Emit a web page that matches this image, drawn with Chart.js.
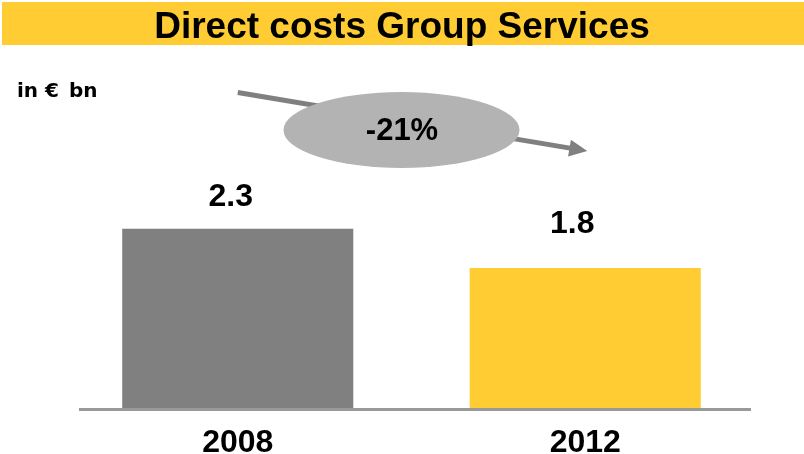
<!DOCTYPE html>
<html>
<head>
<meta charset="utf-8">
<script src="https://cdn.jsdelivr.net/npm/chart.js@4"></script>
<style>
  html, body { margin: 0; padding: 0; background: #ffffff; }
  canvas { display: block; }
</style>
</head>
<body>
<canvas id="chart" width="804" height="454"></canvas>
<script>
// Direct costs of Group Services, in € bn
const years = ['2008', '2012'];
const costs = [2.3, 1.8];
const valueLabels = ['2.3', '1.8'];
const changeLabel = '-21%';
const titleText = 'Direct costs Group Services';
const unitText = 'in €\u2002bn';

const barColors = ['#808080', '#FFCC33'];
const FONT = "'Liberation Sans', Arial, sans-serif";

// label placement tweaks (px) for the value labels above each bar
const labelGap = [23, 35];
const labelDx = [-7, -13];

const decorations = {
  id: 'decorations',
  beforeDraw(chart) {
    const ctx = chart.ctx;
    ctx.save();
    ctx.fillStyle = '#ffffff';
    ctx.fillRect(0, 0, chart.width, chart.height);
    // title band
    ctx.fillStyle = '#FFCC33';
    ctx.fillRect(2, 2, chart.width - 2, 43);
    ctx.fillStyle = '#000000';
    ctx.font = 'bold 37px ' + FONT;
    ctx.textAlign = 'center';
    ctx.textBaseline = 'alphabetic';
    ctx.fillText(titleText, 402, 38);
    // unit
    ctx.font = "bold 20px 'DejaVu Sans', Verdana, sans-serif";
    ctx.textAlign = 'left';
    ctx.fillText(unitText, 17, 97);
    ctx.restore();
  },
  afterDatasetsDraw(chart) {
    const ctx = chart.ctx;
    const x = chart.scales.x;
    const y = chart.scales.y;
    const area = chart.chartArea;
    ctx.save();

    // baseline
    ctx.strokeStyle = '#999999';
    ctx.lineWidth = 3;
    ctx.beginPath();
    ctx.moveTo(area.left + 15, y.getPixelForValue(0) + 0.5);
    ctx.lineTo(area.right - 8, y.getPixelForValue(0) + 0.5);
    ctx.stroke();

    // value labels
    ctx.fillStyle = '#000000';
    ctx.font = 'bold 32px ' + FONT;
    ctx.textAlign = 'center';
    ctx.textBaseline = 'alphabetic';
    costs.forEach((v, i) => {
      const px = x.getPixelForValue(i) + labelDx[i];
      const py = y.getPixelForValue(v) - labelGap[i];
      ctx.fillText(valueLabels[i], px, py);
    });

    // trend arrow from the first bar to the second
    const x0 = x.getPixelForValue(0), y0 = 92.5;
    const x1 = x.getPixelForValue(1) + 2, y1 = 151;
    const dx = x1 - x0, dy = y1 - y0;
    const len = Math.hypot(dx, dy);
    const ux = dx / len, uy = dy / len;
    const headLen = 18, headHalf = 8.5;
    const bx = x1 - ux * headLen, by = y1 - uy * headLen;
    ctx.strokeStyle = '#808080';
    ctx.fillStyle = '#808080';
    ctx.lineWidth = 5;
    ctx.beginPath();
    ctx.moveTo(x0, y0);
    ctx.lineTo(bx + ux * 2, by + uy * 2);
    ctx.stroke();
    ctx.beginPath();
    ctx.moveTo(x1, y1);
    ctx.lineTo(bx - uy * headHalf, by + ux * headHalf);
    ctx.lineTo(bx + uy * headHalf, by - ux * headHalf);
    ctx.closePath();
    ctx.fill();

    // change bubble
    ctx.fillStyle = '#B3B3B3';
    ctx.beginPath();
    ctx.ellipse(401.5, 130, 118, 38, 0, 0, Math.PI * 2);
    ctx.fill();
    ctx.fillStyle = '#000000';
    ctx.font = 'bold 31px ' + FONT;
    ctx.textAlign = 'center';
    ctx.fillText(changeLabel, 402, 140);

    ctx.restore();
  }
};

new Chart(document.getElementById('chart'), {
  type: 'bar',
  data: {
    labels: years,
    datasets: [{
      data: costs,
      backgroundColor: barColors,
      borderWidth: 0,
      categoryPercentage: 1,
      barPercentage: 0.665
    }]
  },
  options: {
    responsive: false,
    devicePixelRatio: 1,
    animation: false,
    layout: { padding: { left: 64, right: 45, top: 174, bottom: 0 } },
    plugins: {
      legend: { display: false },
      title: { display: false },
      tooltip: { enabled: false }
    },
    scales: {
      x: {
        grid: { display: false },
        border: { display: false },
        ticks: {
          color: '#000000',
          padding: 7,
          font: { family: FONT, size: 32, weight: 'bold' }
        },
        afterFit(scale) { scale.height = 45; }
      },
      y: {
        display: false,
        min: 0,
        max: 3
      }
    }
  },
  plugins: [decorations]
});
</script>
</body>
</html>
